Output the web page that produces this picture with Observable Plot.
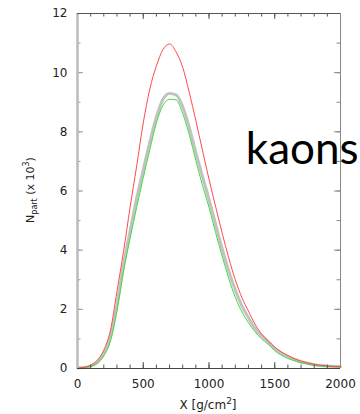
<!DOCTYPE html>
<html><head><meta charset="utf-8">
<script src="https://cdn.jsdelivr.net/npm/d3@7"></script>
<script src="https://cdn.jsdelivr.net/npm/@observablehq/plot@0.6"></script>
<style>body{margin:0;background:#fff} #chart{width:360px;height:414px}</style>
</head><body><div id="chart"></div>
<script>
const depth = [0,50,100,150,200,250,300,350,400,450,500,550,600,650,700,750,800,850,900,950,1000,1050,1100,1150,1200,1250,1300,1350,1400,1450,1500,1550,1600,1650,1700,1750,1800,1850,1900,1950,2000];
const red   = [0.02,0.04,0.11,0.28,0.62,1.28,2.6,3.95,5.45,6.84,8.3,9.45,10.23,10.78,10.97,10.7,10.18,9.33,8.38,7.38,6.4,5.48,4.58,3.74,3.0,2.4,1.94,1.5,1.17,0.94,0.72,0.56,0.44,0.33,0.25,0.19,0.14,0.11,0.09,0.07,0.06];
const gray  = [0.02,0.03,0.08,0.21,0.5,1.05,2.15,3.5,4.65,5.75,6.72,7.65,8.5,9.1,9.3,9.25,8.85,8.15,7.3,6.5,5.72,4.88,4.05,3.3,2.65,2.12,1.72,1.36,1.1,0.9,0.68,0.52,0.4,0.31,0.23,0.18,0.13,0.1,0.08,0.07,0.06];
const green = [0.02,0.03,0.07,0.18,0.43,0.92,1.94,3.28,4.4,5.45,6.45,7.4,8.3,8.9,9.1,9.08,8.62,7.9,7.03,6.2,5.45,4.6,3.8,3.05,2.4,1.92,1.55,1.24,1.0,0.82,0.6,0.45,0.34,0.26,0.19,0.15,0.11,0.08,0.07,0.06,0.05];
const xMajor = [0,500,1000,1500,2000];
const xMinor = [0,100,200,300,400,500,600,700,800,900,1000,1100,1200,1300,1400,1500,1600,1700,1800,1900,2000];
const yMajor = [0,2,4,6,8,10,12];
const yMinor = [0,1,2,3,4,5,6,7,8,9,10,11,12];
const annotation = [{x:1280, y:6.9, text:"kaons"}];

const rows = depth.map((x,i)=>({x, red:red[i], gray:gray[i], green:green[i]}));

const W=360,H=414,mL=77,mR=20,mT=13,mB=46;
const fw=W-mL-mR, fh=H-mT-mB;

const plot = Plot.plot({
  width:W, height:H, marginLeft:mL, marginRight:mR, marginTop:mT, marginBottom:mB,
  style:{fontFamily:"DejaVu Sans", fontSize:"12px", color:"#222", background:"#fff"},
  x:{domain:[0,2000]},
  y:{domain:[0,12]},
  marks:[
    Plot.line(rows,{x:"x", y:"gray", stroke:"#c2c2c2", strokeWidth:3, curve:"monotone-x"}),
    Plot.line(rows,{x:"x", y:"green", stroke:"#3ddc3d", strokeWidth:1, curve:"monotone-x"}),
    Plot.line(rows,{x:"x", y:"red", stroke:"#ff4a4a", strokeWidth:1, curve:"monotone-x"}),
    Plot.tickX(xMinor,{x:d=>d, insetTop:fh-3.5, stroke:"#555"}),
    Plot.tickX(xMajor,{x:d=>d, insetTop:fh-6, stroke:"#555"}),
    Plot.tickX(xMinor,{x:d=>d, insetBottom:fh-3.5, stroke:"#555"}),
    Plot.tickX(xMajor,{x:d=>d, insetBottom:fh-6, stroke:"#555"}),
    Plot.tickY(yMinor,{y:d=>d, insetRight:fw-3.5, stroke:"#999"}),
    Plot.tickY(yMajor,{y:d=>d, insetRight:fw-6, stroke:"#999"}),
    Plot.tickY(yMinor,{y:d=>d, insetLeft:fw-3.5, stroke:"#888"}),
    Plot.tickY(yMajor,{y:d=>d, insetLeft:fw-6, stroke:"#888"}),
    Plot.ruleX([0],{stroke:"#bbb", strokeWidth:2.5}),
    Plot.ruleX([2000],{stroke:"#888", strokeWidth:1}),
    Plot.ruleY([12],{stroke:"#555", strokeWidth:1}),
    Plot.ruleY([0],{stroke:"#444", strokeWidth:1}),
    Plot.axisX(xMajor,{tickSize:0, tickPadding:11, label:null, fontSize:12, fill:"#222", tickFormat:d3.format("d")}),
    Plot.axisY(yMajor,{tickSize:0, tickPadding:10, label:null, fontSize:12, fill:"#222", tickFormat:d3.format("d")}),
    Plot.text(annotation,{x:"x", y:"y", text:"text", textAnchor:"start", lineAnchor:"bottom", fontSize:44, fontFamily:"Lato", fill:"#000"})
  ]
});

const svg = d3.select(plot);
const yl = svg.append("text").attr("transform","translate(34,190) rotate(-90)")
  .attr("text-anchor","middle").attr("font-size",11).attr("fill","#222").attr("font-family","DejaVu Sans");
yl.append("tspan").text("N");
yl.append("tspan").attr("font-size",8).attr("dy",3).text("part");
yl.append("tspan").attr("dy",-3).text(" (x 10");
yl.append("tspan").attr("font-size",8).attr("dy",-5).text("3");
yl.append("tspan").attr("dy",5).text(")");

const xl = svg.append("text").attr("x",208).attr("y",409)
  .attr("text-anchor","middle").attr("font-size",12).attr("fill","#222").attr("font-family","DejaVu Sans");
xl.append("tspan").text("X [g/cm");
xl.append("tspan").attr("font-size",9).attr("dy",-5).text("2");
xl.append("tspan").attr("dy",5).text("]");

document.getElementById("chart").appendChild(plot);
</script></body></html>
